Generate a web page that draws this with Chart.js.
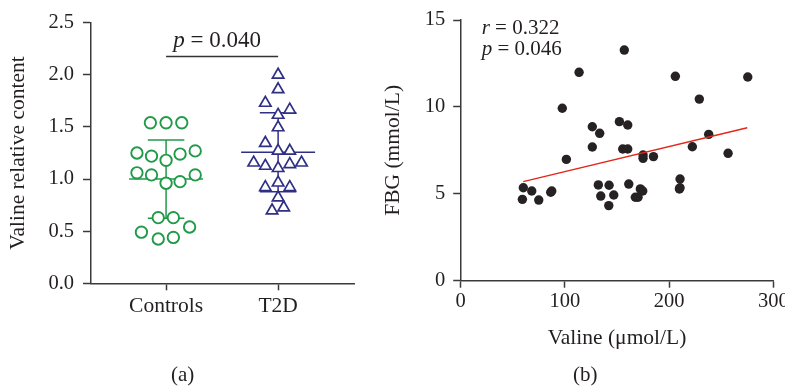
<!DOCTYPE html>
<html>
<head>
<meta charset="utf-8">
<script src="https://cdn.jsdelivr.net/npm/chart.js@4.4.0/dist/chart.umd.min.js"></script>
<style>
  body { margin: 0; background: #fff; width: 785px; height: 386px; position: relative; overflow: hidden; font-family: "Liberation Serif", serif; }
  #wrapA { position: absolute; left: 0; top: 0; width: 380px; height: 386px; }
  #wrapB { position: absolute; left: 380px; top: 0; width: 405px; height: 386px; }
  .lab { position: absolute; top: 362px; font-size: 21px; color: #231f20; }
</style>
</head>
<body>
<div id="wrapA"><canvas id="chartA" width="380" height="386"></canvas></div>
<div id="wrapB"><canvas id="chartB" width="405" height="386"></canvas></div>
<div class="lab" style="left:171px">(a)</div>
<div class="lab" style="left:573px">(b)</div>
<script>
// ---- Panel (a): valine relative content ----
const groups = ['Controls', 'T2D'];
const controlsY = [1.54, 1.54, 1.54, 1.25, 1.22, 1.18, 1.24, 1.27, 1.06, 1.04, 0.96, 0.975, 1.04, 0.63, 0.63, 0.49, 0.425, 0.44, 0.54];
const controlsJitter = [-0.14, 0, 0.14, -0.26, -0.13, 0, 0.125, 0.26, -0.26, -0.13, 0, 0.125, 0.26, -0.07, 0.065, -0.22, -0.07, 0.065, 0.21];
const t2dY = [2.0, 1.86, 1.73, 1.665, 1.615, 1.495, 1.345, 1.27, 1.27, 1.157, 1.126, 1.104, 1.142, 1.157, 0.965, 0.921, 0.921, 0.822, 0.697, 0.726];
const t2dJitter = [0, 0, -0.114, 0.104, 0, 0, -0.114, 0, 0.104, -0.218, -0.114, 0, 0.104, 0.209, 0, -0.114, 0.104, 0, -0.054, 0.05];
const groupMeans = [1.0, 1.257];
const groupSDs = [0.375, 0.378];
const yTicksA = [0, 0.5, 1.0, 1.5, 2.0, 2.5];
const sigBarY = 2.175;
const sigText = '0.040';

// ---- Panel (b): FBG vs valine ----
const valine = [157, 113.6, 206, 275.5, 229, 97.5, 152.3, 160.3, 126.3, 133.4, 238, 126.3, 155.5, 160.3, 222.3, 256.6, 101.4, 175, 175, 185,
  60.1, 59.2, 68.2, 74.9, 86.4, 87.4, 132.1, 134.4, 142.4, 142.1, 146.9, 161.3, 167.6, 170.2, 172.4, 174.7, 210.5, 209.9, 210.5];
const fbg = [13.27, 11.99, 11.76, 11.72, 10.45, 9.92, 9.15, 8.96, 8.86, 8.48, 8.42, 7.69, 7.58, 7.58, 7.71, 7.33, 6.98, 7.23, 7.04, 7.14,
  5.35, 4.68, 5.16, 4.64, 5.09, 5.16, 5.51, 4.87, 5.49, 4.32, 4.93, 5.56, 4.80, 4.80, 5.28, 5.16, 5.85, 5.28, 5.35];
const fitX = [60, 275];
const fitY = [5.70, 8.80];
const corrR = '0.322';
const corrP = '0.046';

const FONT = 'Liberation Serif';
const TXT = '#231f20';
const AXIS = '#3a3a3a';
const GREEN = '#1f9a48';
const NAVY = '#2f2f86';
const tickFont = { family: FONT, size: 20.5 };
const titleFont = { family: FONT, size: 21.5 };

function axisGrid(len) {
  return { display: true, drawOnChartArea: false, drawTicks: true, tickLength: len, tickColor: AXIS, tickWidth: 1.5 };
}

// mean line, SD caps and whisker for each group
const statSets = [];
groups.forEach((g, i) => {
  const c = i + 1, m = groupMeans[i], sd = groupSDs[i];
  const col = i === 0 ? GREEN : NAVY;
  const segs = [
    [[c - 0.33, m], [c + 0.33, m]],
    [[c - 0.163, m + sd], [c + 0.163, m + sd]],
    [[c - 0.163, m - sd], [c + 0.163, m - sd]],
    [[c, m - sd], [c, m + sd]]
  ];
  segs.forEach(s => statSets.push({
    type: 'line',
    data: s.map(p => ({ x: p[0], y: p[1] })),
    borderColor: col, borderWidth: 1.5, pointRadius: 0, fill: false, order: 2
  }));
});

const sigPlugin = {
  id: 'sig',
  afterDatasetsDraw(chart) {
    const { ctx, scales: { x, y } } = chart;
    const py = y.getPixelForValue(sigBarY);
    ctx.save();
    ctx.strokeStyle = '#333';
    ctx.lineWidth = 1.5;
    ctx.beginPath();
    ctx.moveTo(x.getPixelForValue(1), py);
    ctx.lineTo(x.getPixelForValue(2), py);
    ctx.stroke();
    ctx.fillStyle = TXT;
    ctx.textBaseline = 'alphabetic';
    ctx.font = 'italic 23px ' + FONT;
    const wp = ctx.measureText('p').width;
    ctx.font = '23px ' + FONT;
    const rest = ' = ' + sigText;
    const wr = ctx.measureText(rest).width;
    const cx = (x.getPixelForValue(1) + x.getPixelForValue(2)) / 2 - 5;
    const sx = cx - (wp + wr) / 2;
    ctx.font = 'italic 23px ' + FONT;
    ctx.fillText('p', sx, py - 10);
    ctx.font = '23px ' + FONT;
    ctx.fillText(rest, sx + wp, py - 10);
    ctx.restore();
  }
};

new Chart(document.getElementById('chartA'), {
  type: 'scatter',
  data: {
    datasets: [
      {
        label: groups[0],
        data: controlsY.map((v, i) => ({ x: 1 + controlsJitter[i], y: v })),
        pointStyle: 'circle', pointRadius: 5.7, borderWidth: 1.9,
        borderColor: GREEN, backgroundColor: '#fff', order: 1
      },
      {
        label: groups[1],
        data: t2dY.map((v, i) => ({ x: 2 + t2dJitter[i], y: v })),
        pointStyle: 'triangle', pointRadius: 6.6, borderWidth: 1.7,
        borderColor: NAVY, backgroundColor: '#fff', order: 1
      },
      ...statSets
    ]
  },
  options: {
    responsive: false,
    animation: false,
    layout: { padding: { left: 0, top: 22.7, right: 25.7, bottom: 0 } },
    plugins: { legend: { display: false }, tooltip: { enabled: false } },
    scales: {
      x: {
        type: 'linear', min: 0.33, max: 2.68,
        afterBuildTicks: s => { s.ticks = groups.map((g, i) => ({ value: i + 1 })); },
        ticks: { callback: v => groups[v - 1], font: titleFont, color: TXT, padding: 3 },
        grid: axisGrid(7),
        border: { display: true, color: AXIS, width: 1.5 },
        afterFit: s => { s.height = 102.7; s.paddingLeft = 0; s.paddingRight = 0; }
      },
      y: {
        min: 0, max: 2.5,
        afterBuildTicks: s => { s.ticks = yTicksA.map(v => ({ value: v })); },
        ticks: { callback: v => v.toFixed(1), font: tickFont, color: TXT, padding: 9 },
        grid: axisGrid(8),
        border: { display: true, color: AXIS, width: 1.5 },
        title: { display: true, text: 'Valine relative content', font: titleFont, color: TXT, padding: { top: 5, bottom: 0 } },
        afterFit: s => { s.width = 91; s.paddingTop = 0; s.paddingBottom = 0; }
      }
    }
  },
  plugins: [sigPlugin]
});

const corrPlugin = {
  id: 'corr',
  afterDatasetsDraw(chart) {
    const { ctx, chartArea } = chart;
    const x0 = chartArea.left + 21;
    ctx.save();
    ctx.fillStyle = TXT;
    ctx.textBaseline = 'alphabetic';
    [['r', corrR, chartArea.top + 13.5], ['p', corrP, chartArea.top + 35]].forEach(([sym, val, by]) => {
      ctx.font = 'italic 21px ' + FONT;
      ctx.fillText(sym, x0, by);
      const w = ctx.measureText(sym).width;
      ctx.font = '21px ' + FONT;
      ctx.fillText(' = ' + val, x0 + w, by);
    });
    ctx.restore();
  }
};

new Chart(document.getElementById('chartB'), {
  type: 'scatter',
  data: {
    datasets: [
      {
        label: 'FBG',
        data: valine.map((v, i) => ({ x: v, y: fbg[i] })),
        pointRadius: 4.7, borderWidth: 0,
        backgroundColor: '#262223', borderColor: '#262223', order: 2
      },
      {
        type: 'line',
        label: 'fit',
        data: fitX.map((v, i) => ({ x: v, y: fitY[i] })),
        borderColor: '#e3261b', borderWidth: 1.3, pointRadius: 0, fill: false, order: 1
      }
    ]
  },
  options: {
    responsive: false,
    animation: false,
    layout: { padding: { left: 0, top: 20, right: 11.7, bottom: 0 } },
    plugins: { legend: { display: false }, tooltip: { enabled: false } },
    scales: {
      x: {
        type: 'linear', min: 0, max: 300,
        ticks: { stepSize: 100, font: tickFont, color: TXT, padding: 2 },
        grid: axisGrid(7),
        border: { display: true, color: AXIS, width: 1.5 },
        title: { display: true, text: 'Valine (\u03bcmol/L)', font: titleFont, color: TXT, padding: { top: 0, bottom: 35 } },
        afterFit: s => { s.height = 105.3; s.paddingLeft = 0; s.paddingRight = 0; }
      },
      y: {
        min: 0, max: 15,
        ticks: { stepSize: 5, font: tickFont, color: TXT, padding: 8 },
        grid: axisGrid(7.5),
        border: { display: true, color: AXIS, width: 1.5 },
        title: { display: true, text: 'FBG (mmol/L)', font: titleFont, color: TXT, padding: { top: 0, bottom: 0 } },
        afterFit: s => { s.width = 80.7; s.paddingTop = 0; s.paddingBottom = 0; }
      }
    }
  },
  plugins: [corrPlugin]
});
</script>
</body>
</html>
